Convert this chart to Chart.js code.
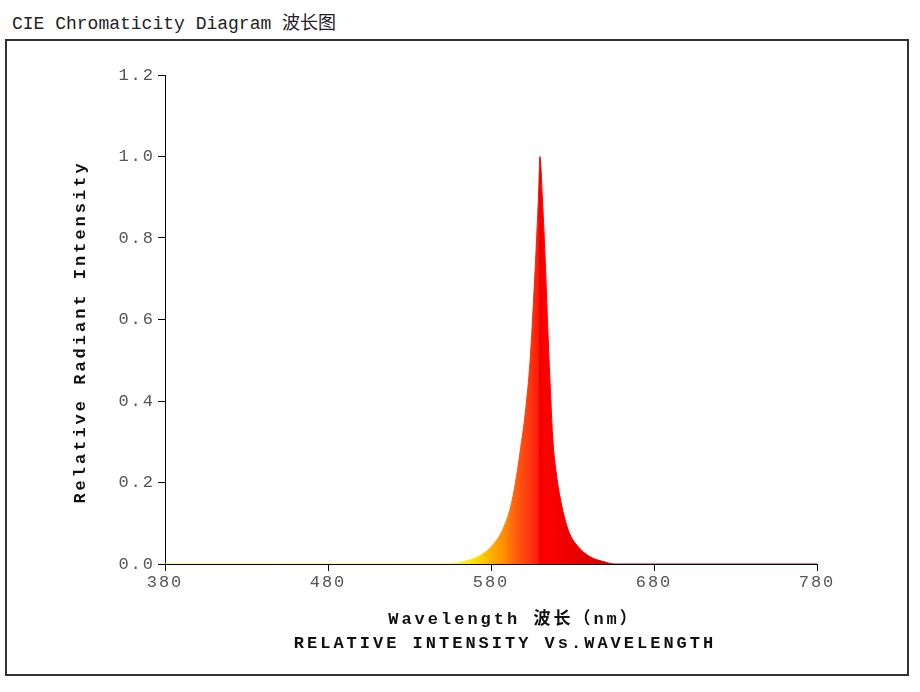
<!DOCTYPE html>
<html lang="zh">
<head>
  <meta charset="UTF-8">
  <title>CIE Chromaticity Diagram 波长图</title>
  <script src="https://cdn.jsdelivr.net/npm/chart.js@4.4.1/dist/chart.umd.min.js"></script>
  <style>
    html, body { margin: 0; padding: 0; background: #fff; }
    #title {
      position: absolute; left: 12px; top: 8px;
      font: 18px "Liberation Mono", "Noto Sans CJK SC", monospace;
      color: #222; white-space: nowrap;
    }
    #frame {
      position: absolute; left: 5px; top: 39px;
      width: 900px; height: 633px;
      border: 2px solid #333;
    }
    #wrap { position: absolute; left: 0; top: 0; width: 920px; height: 692px; }
  </style>
</head>
<body>
  <div id="title">CIE Chromaticity Diagram 波长图</div>
  <div id="frame"></div>
  <div id="wrap"><canvas id="myChart" width="920" height="692"></canvas></div>
  <script>
    // wavelength (nm) and relative intensity
    const wavelength = [380, 450, 520, 550, 556, 563, 572, 580, 587, 592, 595, 598, 601, 604, 606, 608, 609.3, 610,
                        611.5, 613.5, 615, 616.5, 618, 619.5, 622.3, 627.4, 633.6, 640.7, 649, 656, 700, 780]
    const intensity  = [0, 0, 0, 0, 0.001, 0.006, 0.018, 0.042, 0.083, 0.14, 0.2, 0.28, 0.37, 0.5, 0.64, 0.8, 0.92, 1.0,
                        0.9, 0.72, 0.56, 0.42, 0.3, 0.24, 0.165, 0.083, 0.042, 0.018, 0.006, 0, 0, 0]
    const xTicks = [380, 480, 580, 680, 780]
    const yTicks = [0, 0.2, 0.4, 0.6, 0.8, 1.0, 1.2]

    // spectrum colour stops (nm -> colour)
    const colorStops = [
      [558, '#ffff20'], [570, '#ffe000'], [580, '#ffb000'], [588, '#ff8c00'],
      [596, '#ff5a10'], [603, '#ff3a10'], [609, '#ff1a08'], [610, '#e80000'],
      [612, '#ff0000'], [625, '#f00000'], [650, '#d80000']
    ]

    const titleFont = 'bold 17px "Liberation Mono", "Noto Sans CJK SC", monospace'

    const axisTitles = {
      id: 'axisTitles',
      beforeDraw(chart) {
        chart.ctx.letterSpacing = '2px'
      },
      afterDraw(chart) {
        const ctx = chart.ctx
        ctx.save()
        ctx.letterSpacing = '3px'
        ctx.font = titleFont
        ctx.fillStyle = '#111'
        ctx.textAlign = 'center'
        ctx.textBaseline = 'middle'
        ctx.fillText('Wavelength 波长（nm）', 514, 620)
        ctx.fillText('RELATIVE INTENSITY Vs.WAVELENGTH', 505, 644)
        ctx.translate(81, 332)
        ctx.rotate(-Math.PI / 2)
        ctx.fillText('Relative Radiant Intensity', 0, 0)
        ctx.restore()
      }
    }

    function spectrumFill(context) {
      const chart = context.chart
      const area = chart.chartArea
      const x = chart.scales.x
      if (!area || !x) return '#ff0000'
      const g = chart.ctx.createLinearGradient(area.left, 0, area.right, 0)
      const span = area.right - area.left
      colorStops.forEach(([nm, c]) => {
        const p = (x.getPixelForValue(nm) - area.left) / span
        g.addColorStop(Math.min(Math.max(p, 0), 1), c)
      })
      return g
    }

    const ctx = document.getElementById('myChart').getContext('2d')
    new Chart(ctx, {
      type: 'line',
      data: {
        datasets: [{
          data: wavelength.map((w, i) => ({ x: w, y: intensity[i] })),
          fill: 'origin',
          backgroundColor: spectrumFill,
          borderColor: spectrumFill,
          borderWidth: 1,
          pointRadius: 0,
          cubicInterpolationMode: 'monotone'
        }]
      },
      options: {
        responsive: false,
        animation: false,
        layout: { padding: { left: 0, top: 75, right: 103, bottom: 0 } },
        plugins: { legend: { display: false }, tooltip: { enabled: false } },
        scales: {
          x: {
            type: 'linear',
            min: 380, max: 780,
            afterFit: s => { s.height = 128 },
            afterBuildTicks: s => { s.ticks = xTicks.map(v => ({ value: v })) },
            grid: { drawOnChartArea: false, drawTicks: true, tickLength: 7, color: '#000' },
            border: { display: true, color: '#000', width: 1 },
            ticks: {
              padding: 1,
              color: '#555',
              maxRotation: 0,
              font: { family: '"Liberation Mono", monospace', size: 17 },
              callback: v => String(v)
            }
          },
          y: {
            min: 0, max: 1.2,
            afterFit: s => { s.width = 165 },
            afterBuildTicks: s => { s.ticks = yTicks.map(v => ({ value: v })) },
            grid: { drawOnChartArea: false, drawTicks: true, tickLength: 7, color: '#000' },
            border: { display: true, color: '#000', width: 1 },
            ticks: {
              padding: 3,
              color: '#555',
              font: { family: '"Liberation Mono", monospace', size: 17 },
              callback: v => v.toFixed(1)
            }
          }
        }
      },
      plugins: [axisTitles]
    })
  </script>
</body>
</html>
